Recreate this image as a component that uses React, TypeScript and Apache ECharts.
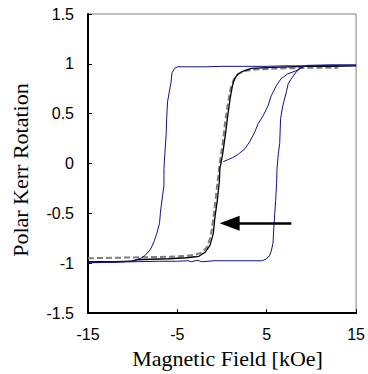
import React, { useEffect, useRef } from "react";
import * as echarts from "echarts";

// Magnetic field [kOe] vs Polar Kerr rotation (normalized)
const blueDescending: [number, number][] = [
  [15, 0.985], [12, 0.985], [10, 0.98], [7, 0.98], [5, 0.975], [2, 0.975], [0, 0.975],
  [-2, 0.97], [-4, 0.97], [-5, 0.97], [-5.3, 0.955], [-5.6, 0.91], [-5.7, 0.82],
  [-5.9, 0.72], [-6.1, 0.62], [-6.2, 0.45], [-6.25, 0.3], [-6.4, 0.1], [-6.5, -0.05],
  [-6.5, -0.22], [-6.8, -0.42], [-6.9, -0.5], [-7.0, -0.6], [-7.3, -0.7], [-7.6, -0.78],
  [-8.0, -0.86], [-8.6, -0.92], [-9.1, -0.95], [-10.2, -0.98], [-12, -0.99], [-15, -0.995],
];

const blueAscending: [number, number][] = [
  [-15, -0.99], [-12, -0.985], [-10, -0.985], [-7, -0.98], [-5, -0.98], [-3.8, -0.975],
  [-3.4, -0.985], [-2.8, -0.97], [-2.2, -0.985], [-1, -0.975], [0, -0.975], [2, -0.975],
  [4.5, -0.975], [5.0, -0.955], [5.3, -0.925], [5.5, -0.88], [5.7, -0.8], [5.8, -0.64],
  [5.9, -0.5], [6.0, -0.37], [6.1, -0.2], [6.15, -0.05], [6.3, 0.1], [6.45, 0.2],
  [6.55, 0.45], [6.8, 0.58], [7.2, 0.72], [7.4, 0.8], [7.75, 0.85], [8.3, 0.92],
  [9.0, 0.97], [9.6, 0.985], [12, 0.99], [15, 0.99],
];

const blueInner: [number, number][] = [
  [0.15, 0.02], [0.7, 0.04], [1.2, 0.06], [1.83, 0.094], [2.57, 0.15], [3.1, 0.22],
  [3.68, 0.32], [4.04, 0.4], [4.6, 0.48], [5.15, 0.58], [5.5, 0.68], [6.07, 0.78],
  [6.6, 0.85], [7.36, 0.9], [8.28, 0.93], [9.0, 0.97], [9.6, 0.98],
];

const blackCurve: [number, number][] = [
  [-15, -0.985], [-12, -0.985], [-10, -0.98], [-9.5, -0.965], [-8, -0.96], [-6, -0.955],
  [-4, -0.945], [-3, -0.935], [-2.6, -0.93], [-1.9, -0.89], [-1.35, -0.82], [-0.98, -0.7],
  [-0.8, -0.54], [-0.53, -0.37], [-0.3, -0.18], [-0.24, -0.05], [0.06, 0.09],
  [0.42, 0.32], [0.64, 0.48], [0.9, 0.65], [1.16, 0.78], [1.4, 0.85], [1.7, 0.89],
  [2.2, 0.92], [2.6, 0.935], [3.3, 0.955], [5.5, 0.965], [9.2, 0.975], [12, 0.975],
  [15, 0.98],
];

const grayCurve: [number, number][] = [
  [-15, -0.95], [-12, -0.945], [-9, -0.94], [-6, -0.935], [-4, -0.925], [-3, -0.915],
  [-2.3, -0.895], [-1.7, -0.84], [-1.3, -0.74], [-1.05, -0.6], [-0.8, -0.42],
  [-0.55, -0.22], [-0.3, -0.02], [0.1, 0.22], [0.35, 0.42], [0.65, 0.6], [0.95, 0.75],
  [1.3, 0.84], [1.8, 0.9], [2.6, 0.93], [4, 0.945], [7, 0.955], [10, 0.96], [13, 0.96],
];

const arrowTail: [number, number] = [7.75, -0.6];
const arrowHead: [number, number] = [0.85, -0.6];

const xTicks = { min: -15, max: 15, interval: 10 };
const yTicks = { min: -1.5, max: 1.5, interval: 0.5 };

const xTitle = "Magnetic Field [kOe]";
const yTitle = "Polar Kerr Rotation";

export default function App() {
  const ref = useRef<HTMLDivElement>(null);

  useEffect(() => {
    document.body.style.margin = "0";
    if (!ref.current) return;
    const chart = echarts.init(ref.current, undefined, { renderer: "svg" });
    const sans = "'Liberation Sans', Arial, sans-serif";
    const serif = "'Liberation Serif', 'Times New Roman', serif";
    const blue = "#10108a";
    chart.setOption({
      animation: false,
      backgroundColor: "#ffffff",
      grid: {
        left: 88,
        top: 14,
        right: 9,
        bottom: 57,
        show: true,
        borderColor: "#808080",
        borderWidth: 1,
        backgroundColor: "transparent",
      },
      xAxis: {
        type: "value",
        min: xTicks.min,
        max: xTicks.max,
        interval: xTicks.interval,
        name: xTitle,
        nameLocation: "middle",
        nameGap: 31,
        nameTextStyle: { fontFamily: serif, fontSize: 22, color: "#000", padding: [0, 0, 0, 11] },
        axisLine: { show: true, onZero: false, lineStyle: { color: "#000", width: 2 } },
        axisTick: { show: true, inside: true, length: 4, lineStyle: { color: "#000", width: 1 } },
        axisLabel: { fontFamily: sans, fontSize: 16, color: "#000", margin: 13 },
        splitLine: { show: false },
      },
      yAxis: {
        type: "value",
        min: yTicks.min,
        max: yTicks.max,
        interval: yTicks.interval,
        name: yTitle,
        nameLocation: "middle",
        nameGap: 57,
        nameTextStyle: { fontFamily: serif, fontSize: 22, color: "#000", padding: [0, 13, 0, 0] },
        axisLine: { show: true, onZero: false, lineStyle: { color: "#000", width: 2 } },
        axisTick: { show: true, inside: true, length: 4, lineStyle: { color: "#000", width: 1 } },
        axisLabel: { fontFamily: sans, fontSize: 16, color: "#000", margin: 14 },
        splitLine: { show: false },
      },
      series: [
        {
          type: "line",
          data: grayCurve,
          showSymbol: false,
          lineStyle: { color: "#7f7f7f", width: 2, type: [6, 3] },
          z: 2,
        },
        {
          type: "line",
          data: blackCurve,
          showSymbol: false,
          lineStyle: { color: "#000", width: 1.3 },
          z: 3,
        },
        {
          type: "line",
          data: blueDescending,
          showSymbol: false,
          lineStyle: { color: blue, width: 1 },
          z: 4,
        },
        {
          type: "line",
          data: blueAscending,
          showSymbol: false,
          lineStyle: { color: blue, width: 1 },
          z: 4,
        },
        {
          type: "line",
          data: blueInner,
          showSymbol: false,
          lineStyle: { color: blue, width: 1 },
          z: 4,
          markLine: {
            silent: true,
            animation: false,
            label: { show: false },
            lineStyle: { color: "#000", width: 2.5, type: "solid" },
            data: [
              [
                { coord: arrowTail, symbol: "none" },
                { coord: arrowHead, symbol: "triangle", symbolSize: [15, 20] },
              ],
            ],
          },
        },
      ],
    });
    return () => chart.dispose();
  }, []);

  return <div ref={ref} style={{ width: 368, height: 374 }} />;
}
